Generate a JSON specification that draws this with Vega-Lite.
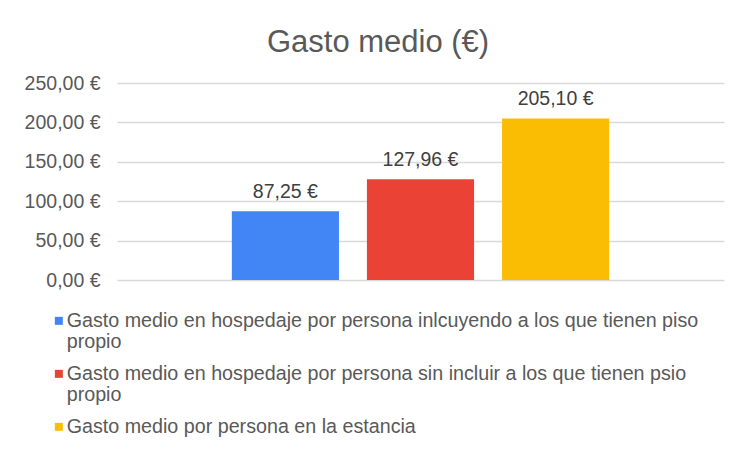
{
  "$schema": "https://vega.github.io/schema/vega-lite/v6.json",
  "width": 607,
  "height": 197,
  "autosize": "none",
  "padding": {"left": 117, "top": 83, "right": 17, "bottom": 170},
  "background": "white",
  "config": {
    "locale": {"number": {"decimal": ",", "thousands": ".", "grouping": [3], "currency": ["", " €"]}},
    "view": {"stroke": null},
    "font": "Liberation Sans"
  },
  "title": {
    "text": "Gasto medio (€)",
    "frame": "bounds",
    "anchor": "middle",
    "fontSize": 31,
    "font": "Liberation Sans",
    "fontWeight": "normal",
    "color": "#595959",
    "offset": 14,
    "dx": 4
  },
  "data": {
    "values": [
      {"serie": "Gasto medio en hospedaje por persona inlcuyendo a los que tienen piso propio", "valor": 87.25},
      {"serie": "Gasto medio en hospedaje por persona sin incluir a los que tienen psio propio", "valor": 127.96},
      {"serie": "Gasto medio por persona en la estancia", "valor": 205.10}
    ]
  },
  "encoding": {
    "x": {
      "field": "serie",
      "type": "nominal",
      "sort": null,
      "scale": {"paddingInner": 0.207, "paddingOuter": 0.85},
      "axis": null
    },
    "y": {
      "field": "valor",
      "type": "quantitative",
      "scale": {"domain": [0, 250], "nice": false},
      "axis": {
        "title": null,
        "values": [0, 50, 100, 150, 200, 250],
        "format": "$.2f",
        "domain": false,
        "ticks": false,
        "labelPadding": 17,
        "labelFontSize": 19.5,
        "labelColor": "#595959",
        "labelFont": "Liberation Sans",
        "gridColor": "#d9d9d9",
        "gridWidth": 1.5
      }
    }
  },
  "layer": [
    {
      "mark": {"type": "bar"},
      "encoding": {
        "color": {
          "field": "serie",
          "type": "nominal",
          "sort": null,
          "scale": {"range": ["#4285F4", "#EA4335", "#FBBC04"]},
          "legend": {
            "title": null,
            "orient": "none",
            "legendX": -68,
            "legendY": 228,
            "direction": "vertical",
            "symbolType": "square",
            "symbolSize": 64,
            "symbolStrokeWidth": 0,
            "labelOffset": -2,
            "labelFontSize": 19.7,
            "labelFont": "Liberation Sans",
            "labelColor": "#595959",
            "labelLimit": 720,
            "labelBaseline": "top",
            "labelExpr": "split(replace(datum.label, ' propio', '|propio'), '|')",
            "rowPadding": 11,
            "encode": {
              "labels": {"update": {"dy": {"value": -10}, "lineHeight": {"value": 21}}}
            }
          }
        }
      }
    },
    {
      "mark": {"type": "text", "baseline": "alphabetic", "dy": -13, "fontSize": 19.5, "color": "#404040", "font": "Liberation Sans"},
      "encoding": {
        "text": {"field": "valor", "type": "quantitative", "format": "$,.2f"}
      }
    }
  ]
}
